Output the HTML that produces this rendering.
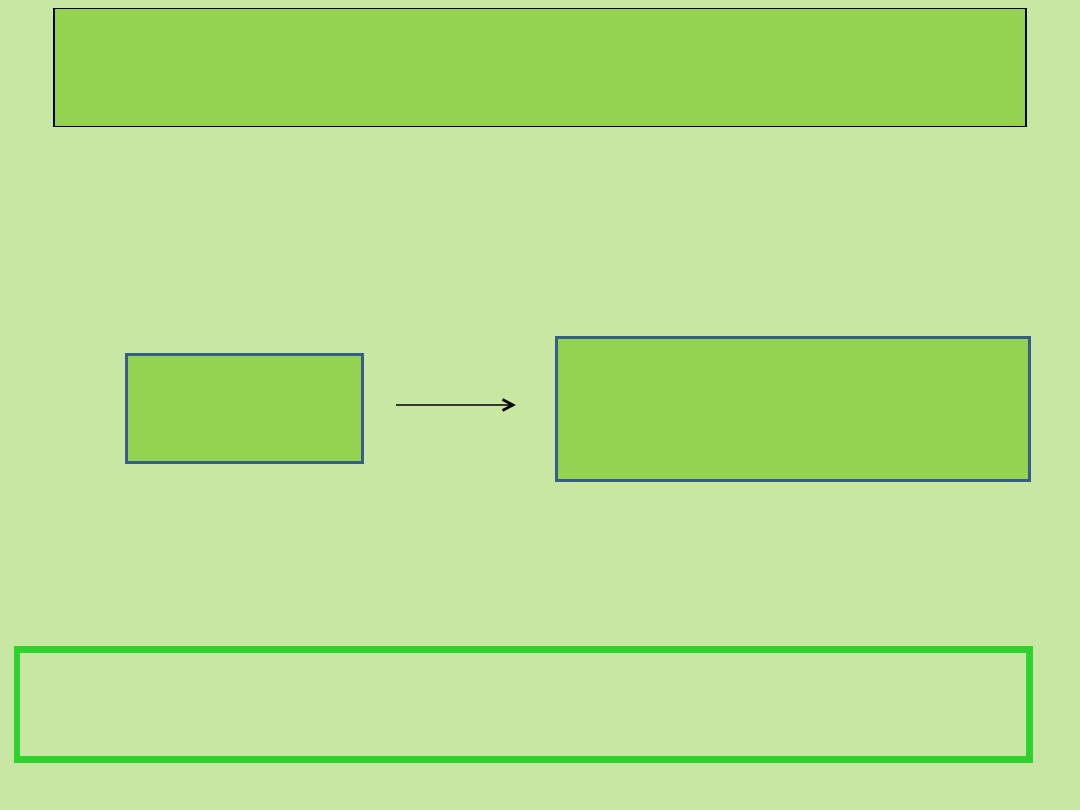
<!DOCTYPE html>
<html>
<head>
<meta charset="utf-8">
<style>
html,body{margin:0;padding:0;width:1080px;height:810px;overflow:hidden;background:#c8e7a3}
svg{display:block;position:absolute;left:0;top:0}
</style>
</head>
<body>
<svg width="1080" height="810" viewBox="0 0 1080 810" xmlns="http://www.w3.org/2000/svg">
<rect width="1080" height="810" fill="#c8e7a3"/>
<g shape-rendering="crispEdges">
<rect x="53" y="8" width="974" height="119" fill="#000"/>
<rect x="55" y="9" width="970" height="117" fill="#93d351"/>
<rect x="125" y="353" width="239" height="111" fill="#385d8a"/>
<rect x="128" y="356" width="233" height="105" fill="#93d351"/>
<rect x="555" y="336" width="476" height="146" fill="#385d8a"/>
<rect x="558" y="339" width="470" height="140" fill="#93d351"/>
<path fill-rule="evenodd" d="M14 646H1033V763H14ZM20 653V756H1026V653Z" fill="#2ed12e"/>
</g>
<path d="M396 405H512" fill="none" stroke="#000" stroke-width="1.5"/>
<path d="M502.5 399.5L513 405L502.5 410.5" fill="none" stroke="#000" stroke-width="2.75"/>
</svg>
</body>
</html>
